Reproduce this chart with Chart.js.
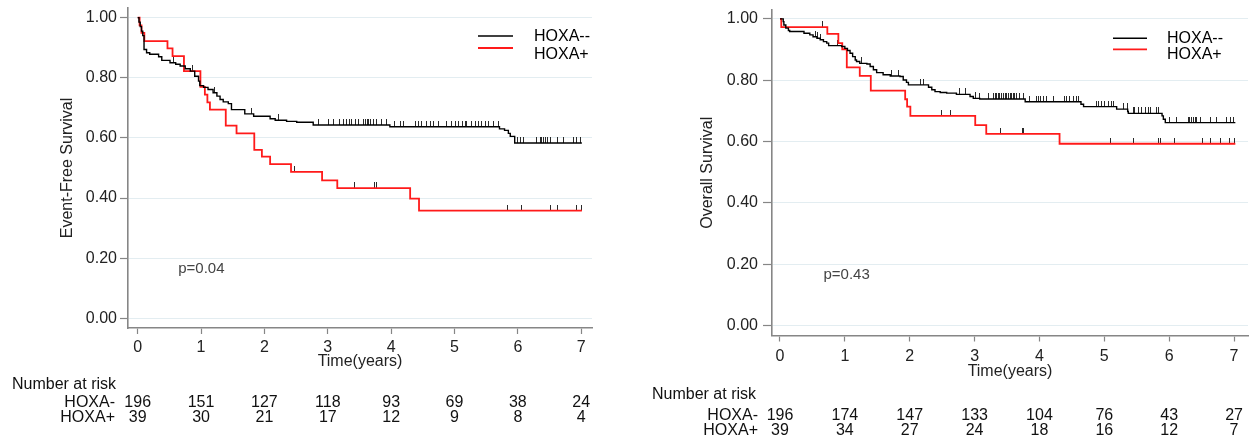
<!DOCTYPE html>
<html lang="en">
<head>
  <meta charset="UTF-8" />
  <title>HOXA survival curves</title>
  <script src="https://cdn.jsdelivr.net/npm/chart.js@4"></script>
  <style>
    html, body { margin: 0; padding: 0; background: #fff; }
    .wrap { position: relative; width: 1254px; height: 442px; overflow: hidden; }
    .panel { position: absolute; top: 0; width: 627px; height: 442px; }
    #left { left: 0; }
    #right { left: 627px; }
  </style>
</head>
<body>
  <div class="wrap">
    <div class="panel" id="left"><canvas id="efsChart" width="627" height="442"></canvas></div>
    <div class="panel" id="right"><canvas id="osChart" width="627" height="442"></canvas></div>
  </div>

<script>
  // ---- data ----
  const groupLabels = ['HOXA--', 'HOXA+'];
  const riskLabels = ['HOXA-', 'HOXA+'];
  const xTicks = [0, 1, 2, 3, 4, 5, 6, 7];
  const yTicks = [0, 0.2, 0.4, 0.6, 0.8, 1.0];
  const riskTimes = [0, 1, 2, 3, 4, 5, 6, 7];

  // Event-free survival (left)
  const efsNegT = [0, 0.02, 0.04, 0.06, 0.08, 0.10, 0.14, 0.19, 0.33, 0.38, 0.51, 0.60, 0.67, 0.75, 0.83, 0.90, 0.96, 0.98, 1.04, 1.11, 1.19, 1.25, 1.30, 1.35, 1.43, 1.48, 1.69, 1.83, 2.09, 2.17, 2.35, 2.51, 2.77, 3.98, 5.71, 5.79, 5.85, 5.88, 5.95, 7.01];
  const efsNegS = [1, 0.985, 0.97, 0.955, 0.94, 0.894, 0.883, 0.878, 0.870, 0.858, 0.850, 0.845, 0.839, 0.830, 0.822, 0.805, 0.789, 0.774, 0.768, 0.761, 0.750, 0.739, 0.728, 0.720, 0.714, 0.694, 0.680, 0.672, 0.664, 0.659, 0.655, 0.652, 0.643, 0.637, 0.630, 0.625, 0.615, 0.605, 0.583, 0.583];
  const efsNegCens = [0.56, 0.87, 1.22, 1.80, 2.22, 2.85, 3.01, 3.09, 3.19, 3.25, 3.30, 3.35, 3.38, 3.43, 3.48, 3.56, 3.59, 3.62, 3.64, 3.67, 3.72, 3.77, 3.85, 3.93, 4.06, 4.14, 4.20, 4.38, 4.43, 4.48, 4.56, 4.62, 4.67, 4.75, 4.88, 4.96, 5.01, 5.06, 5.12, 5.17, 5.19, 5.27, 5.33, 5.38, 5.43, 5.49, 5.54, 5.62, 5.70, 5.99, 6.04, 6.09, 6.30, 6.35, 6.38, 6.41, 6.43, 6.46, 6.51, 6.62, 6.72, 6.88, 6.93, 6.99];
  const efsPosT = [0, 0.03, 0.06, 0.105, 0.47, 0.55, 0.73, 0.99, 1.06, 1.10, 1.14, 1.39, 1.56, 1.84, 1.96, 2.09, 2.42, 2.91, 3.15, 4.30, 4.44, 7.01];
  const efsPosS = [1, 0.974, 0.949, 0.922, 0.898, 0.872, 0.822, 0.770, 0.744, 0.718, 0.694, 0.641, 0.615, 0.560, 0.538, 0.513, 0.487, 0.459, 0.433, 0.398, 0.358, 0.358];
  const efsPosCens = [2.48, 3.42, 3.73, 3.77, 5.83, 6.06, 6.52, 6.63, 6.93, 7.01];
  const efsRiskNeg = [196, 151, 127, 118, 93, 69, 38, 24];
  const efsRiskPos = [39, 30, 21, 17, 12, 9, 8, 4];

  // Overall survival (right)
  const osNegT = [0, 0.05, 0.06, 0.09, 0.13, 0.15, 0.37, 0.46, 0.51, 0.57, 0.62, 0.67, 0.72, 0.75, 0.95, 1.00, 1.04, 1.08, 1.12, 1.16, 1.18, 1.23, 1.34, 1.39, 1.44, 1.49, 1.59, 1.70, 1.85, 1.90, 1.95, 1.98, 2.29, 2.34, 2.39, 2.47, 2.57, 2.72, 2.93, 2.98, 3.08, 3.78, 4.64, 4.68, 5.19, 5.36, 5.37, 5.89, 5.91, 5.94, 7.02];
  const osNegS = [1, 0.991, 0.980, 0.970, 0.962, 0.959, 0.953, 0.948, 0.942, 0.937, 0.932, 0.926, 0.921, 0.913, 0.910, 0.904, 0.897, 0.888, 0.877, 0.866, 0.861, 0.855, 0.853, 0.845, 0.834, 0.825, 0.818, 0.814, 0.812, 0.801, 0.793, 0.785, 0.777, 0.769, 0.763, 0.760, 0.758, 0.754, 0.747, 0.741, 0.739, 0.730, 0.722, 0.714, 0.706, 0.698, 0.692, 0.684, 0.673, 0.662, 0.662];
  const osNegCens = [0.54, 0.58, 0.62, 0.88, 1.26, 1.72, 1.83, 2.17, 2.21, 2.76, 2.86, 3.01, 3.08, 3.21, 3.29, 3.32, 3.34, 3.37, 3.39, 3.42, 3.44, 3.47, 3.49, 3.52, 3.55, 3.57, 3.60, 3.62, 3.65, 3.70, 3.75, 3.85, 3.96, 3.98, 4.01, 4.06, 4.11, 4.21, 4.39, 4.42, 4.47, 4.52, 4.57, 4.60, 4.88, 4.91, 4.96, 5.01, 5.06, 5.11, 5.14, 5.29, 5.35, 5.45, 5.47, 5.53, 5.58, 5.63, 5.68, 5.71, 5.81, 5.83, 6.01, 6.12, 6.30, 6.32, 6.35, 6.37, 6.40, 6.42, 6.48, 6.63, 6.73, 6.89, 6.94, 6.99];
  const osPosT = [0, 0.02, 0.73, 0.90, 0.96, 1.03, 1.23, 1.40, 1.93, 1.96, 2.01, 3.01, 3.18, 4.31, 7.02];
  const osPosS = [1, 0.973, 0.951, 0.921, 0.901, 0.842, 0.814, 0.766, 0.738, 0.714, 0.684, 0.654, 0.625, 0.593, 0.593];
  const osPosCens = [0.66, 2.49, 2.63, 3.40, 3.74, 3.76, 5.10, 5.45, 5.83, 5.86, 6.08, 6.52, 6.63, 6.79, 6.93, 7.00];
  const osRiskNeg = [196, 174, 147, 133, 104, 76, 43, 27];
  const osRiskPos = [39, 34, 27, 24, 18, 16, 12, 7];

  // ---- styling ----
  const FONT = "'Liberation Sans', Arial, Helvetica, sans-serif";
  const axisGrey = '#868686';
  const gridBlue = '#e3edf1';
  const lineRed = '#ff1a1a';
  Chart.defaults.font.family = FONT;
  Chart.defaults.font.size = 16;
  Chart.defaults.color = '#222';

  // small vertical censor tick sitting on top of the curve
  const tickImg = document.createElement('canvas');
  tickImg.width = 1;
  tickImg.height = 12;
  const tctx = tickImg.getContext('2d');
  tctx.fillStyle = '#2a2a2a';
  tctx.fillRect(0, 0, 1, 6);

  function survAt(times, surv, t) {
    let s = surv[0];
    for (let i = 0; i < times.length; i++) {
      if (times[i] <= t) s = surv[i]; else break;
    }
    return s;
  }

  function stepSet(label, t, s, color, width) {
    return {
      label: label,
      data: t.map((v, i) => ({ x: v, y: s[i] })),
      borderColor: color,
      borderWidth: width,
      stepped: true,
      pointRadius: 0,
      fill: false
    };
  }

  function censorSet(cens, t, s) {
    return {
      label: 'censored',
      data: cens.map(c => ({ x: c, y: survAt(t, s, c) })),
      showLine: false,
      pointStyle: tickImg,
      pointRadius: 3
    };
  }

  // legend, p value and number-at-risk table
  const kmExtras = {
    id: 'kmExtras',
    afterDraw(chart, args, o) {
      const { ctx } = chart;
      const x = chart.scales.x, y = chart.scales.y;
      ctx.save();
      ctx.textBaseline = 'middle';

      ctx.font = '15px ' + FONT;
      ctx.fillStyle = '#444';
      ctx.textAlign = 'left';
      ctx.fillText(o.pText, x.getPixelForValue(o.pAt[0]), y.getPixelForValue(o.pAt[1]));

      ctx.font = '16px ' + FONT;
      const colors = ['#000', lineRed];
      const widths = [1.4, 1.8];
      groupLabels.forEach((lab, i) => {
        ctx.strokeStyle = colors[i];
        ctx.lineWidth = widths[i];
        ctx.beginPath();
        ctx.moveTo(o.legLine[0], o.legLineY[i]);
        ctx.lineTo(o.legLine[1], o.legLineY[i]);
        ctx.stroke();
        ctx.fillStyle = '#000';
        ctx.fillText(lab, o.legTextX, o.legTextY[i]);
      });

      ctx.fillStyle = '#111';
      ctx.textAlign = 'left';
      ctx.fillText('Number at risk', o.narX, o.riskY[0]);
      o.rows.forEach((row, r) => {
        ctx.textAlign = 'right';
        ctx.fillText(riskLabels[r], o.rowLabelRight, o.riskY[r + 1]);
        ctx.textAlign = 'center';
        riskTimes.forEach((t, i) => {
          ctx.fillText(String(row[i]), x.getPixelForValue(t), o.riskY[r + 1]);
        });
      });
      ctx.restore();
    }
  };

  function buildChart(id, yTitle, g, sets, extras) {
    return new Chart(document.getElementById(id), {
      type: 'line',
      data: { datasets: sets },
      options: {
        responsive: false,
        animation: false,
        events: [],
        layout: { padding: { left: 0, right: g.padRight, top: g.top, bottom: 0 } },
        plugins: {
          legend: { display: false },
          tooltip: { enabled: false },
          kmExtras: extras
        },
        scales: {
          x: {
            type: 'linear',
            min: g.xMin,
            max: g.xMax,
            afterBuildTicks: s => { s.ticks = xTicks.map(v => ({ value: v })); },
            afterFit: s => { s.height = 442 - g.bottom; s.paddingLeft = 0; s.paddingRight = 0; },
            grid: { drawOnChartArea: false, tickLength: 6, tickColor: axisGrey, tickWidth: 1.2 },
            border: { color: axisGrey, width: 1.6 },
            ticks: { padding: g.xTickPad, maxRotation: 0, color: '#222', callback: v => String(v) },
            title: {
              display: true, text: 'Time(years)', color: '#222',
              padding: { top: 0, bottom: g.xTitlePad }
            }
          },
          y: {
            min: g.yMin,
            max: g.yMax,
            afterBuildTicks: s => { s.ticks = yTicks.map(v => ({ value: v })); },
            afterFit: s => { s.width = g.left; s.paddingTop = 0; s.paddingBottom = 0; },
            grid: { color: gridBlue, lineWidth: 1, tickLength: g.yTickLen, tickColor: axisGrey, tickWidth: 1.2 },
            border: { color: axisGrey, width: 1.6 },
            ticks: { padding: g.yTickPad, color: '#222', callback: v => v.toFixed(2) },
            title: {
              display: true, text: yTitle, color: '#222',
              padding: { top: g.yTitlePad, bottom: 0 }
            }
          }
        }
      },
      plugins: [kmExtras]
    });
  }

  buildChart('efsChart', 'Event-Free Survival',
    { left: 128, padRight: 35, top: 8, bottom: 328, xMin: -0.153, xMax: 7.17, yMin: -0.032, yMax: 1.032,
      xTickPad: 4, xTitlePad: 71, yTickLen: 8, yTickPad: 3, yTitlePad: 58 },
    [
      stepSet(groupLabels[0], efsNegT, efsNegS, '#000', 1.4),
      stepSet(groupLabels[1], efsPosT, efsPosS, lineRed, 1.8),
      censorSet(efsNegCens, efsNegT, efsNegS),
      censorSet(efsPosCens, efsPosT, efsPosS)
    ],
    { pText: 'p=0.04', pAt: [0.64, 0.164],
      legLine: [478, 513], legLineY: [36, 48], legTextX: 534, legTextY: [37, 55],
      narX: 12, rowLabelRight: 115, riskY: [385, 402.5, 417.5], rows: [efsRiskNeg, efsRiskPos] });

  buildChart('osChart', 'Overall Survival',
    { left: 145, padRight: 6, top: 10, bottom: 335.5, xMin: -0.123, xMax: 7.215, yMin: -0.032, yMax: 1.029,
      xTickPad: 5, xTitlePad: 61, yTickLen: 9, yTickPad: 5, yTitlePad: 71 },
    [
      stepSet(groupLabels[0], osNegT, osNegS, '#000', 1.4),
      stepSet(groupLabels[1], osPosT, osPosS, lineRed, 1.8),
      censorSet(osNegCens, osNegT, osNegS),
      censorSet(osPosCens, osPosT, osPosS)
    ],
    { pText: 'p=0.43', pAt: [0.67, 0.165],
      legLine: [486, 520], legLineY: [38.3, 49.3], legTextX: 540, legTextY: [39, 55],
      narX: 25, rowLabelRight: 131, riskY: [395, 416, 431], rows: [osRiskNeg, osRiskPos] });
</script>
</body>
</html>
